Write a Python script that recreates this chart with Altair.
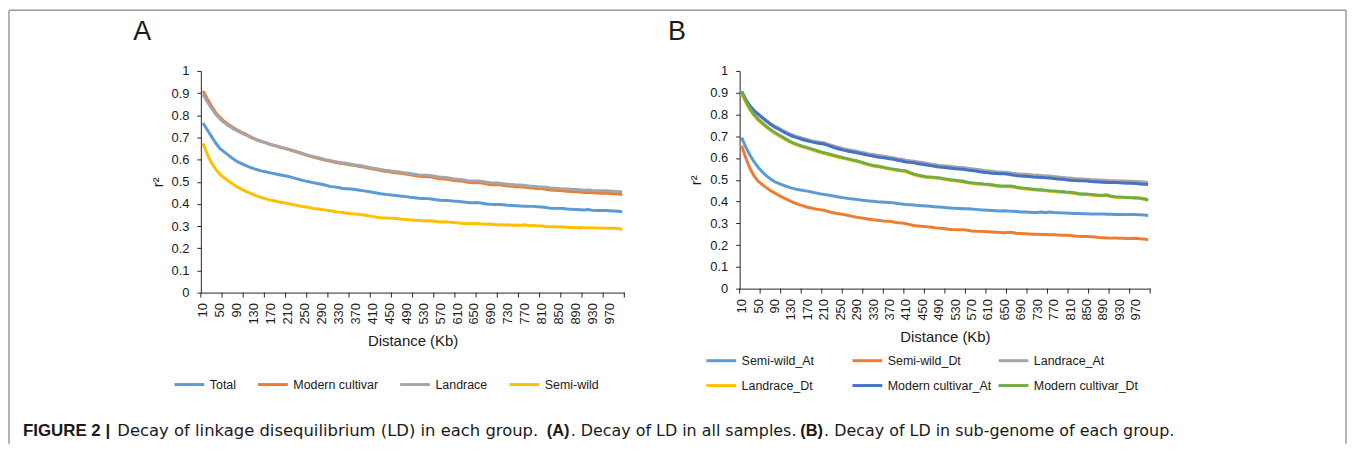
import altair as alt
import pandas as pd

# ---------------- data ----------------
distance = list(range(10, 1001, 10))          # Kb categories
x_labels = list(range(10, 971, 40))            # shown tick labels
x_ticks = list(range(5, 1006, 50))             # tick marks (category boundaries)
y_ticks = [0, 0.1, 0.2, 0.3, 0.4, 0.5, 0.6, 0.7, 0.8, 0.9, 1]

a_names = ["Total", "Modern cultivar", "Landrace", "Semi-wild"]
a_colors = ["#5B9BD5", "#ED7D31", "#A5A5A5", "#FFC000"]

total = [0.765, 0.735, 0.705, 0.675, 0.650, 0.635, 0.620, 0.605, 0.592, 0.583,
         0.574, 0.566, 0.559, 0.553, 0.548, 0.544, 0.540, 0.536, 0.532, 0.528,
         0.525, 0.520, 0.514, 0.509, 0.504, 0.500, 0.496, 0.492, 0.489, 0.484,
         0.479, 0.477, 0.474, 0.470, 0.469, 0.467, 0.465, 0.462, 0.459, 0.456,
         0.453, 0.449, 0.446, 0.444, 0.441, 0.439, 0.437, 0.435, 0.433, 0.430,
         0.428, 0.426, 0.425, 0.424, 0.422, 0.419, 0.417, 0.416, 0.415, 0.413,
         0.412, 0.410, 0.408, 0.405, 0.405, 0.406, 0.403, 0.400, 0.398, 0.397,
         0.398, 0.396, 0.394, 0.393, 0.392, 0.391, 0.390, 0.389, 0.389, 0.387,
         0.386, 0.384, 0.381, 0.380, 0.380, 0.379, 0.377, 0.376, 0.375, 0.374,
         0.373, 0.375, 0.371, 0.370, 0.370, 0.370, 0.369, 0.368, 0.367, 0.365]
modern = [0.910, 0.875, 0.842, 0.812, 0.790, 0.773, 0.758, 0.746, 0.735, 0.724,
          0.715, 0.705, 0.696, 0.688, 0.681, 0.675, 0.668, 0.663, 0.657, 0.652,
          0.647, 0.641, 0.635, 0.629, 0.623, 0.617, 0.612, 0.607, 0.601, 0.597,
          0.593, 0.589, 0.585, 0.582, 0.579, 0.576, 0.573, 0.569, 0.566, 0.562,
          0.558, 0.555, 0.551, 0.547, 0.545, 0.542, 0.540, 0.537, 0.535, 0.532,
          0.528, 0.525, 0.524, 0.523, 0.521, 0.517, 0.514, 0.513, 0.510, 0.507,
          0.505, 0.503, 0.500, 0.497, 0.496, 0.496, 0.494, 0.490, 0.487, 0.486,
          0.486, 0.483, 0.481, 0.480, 0.478, 0.477, 0.475, 0.473, 0.472, 0.470,
          0.468, 0.466, 0.463, 0.462, 0.461, 0.459, 0.457, 0.456, 0.455, 0.454,
          0.452, 0.453, 0.450, 0.449, 0.448, 0.448, 0.447, 0.446, 0.445, 0.443]
landrace = [0.895, 0.862, 0.832, 0.805, 0.784, 0.767, 0.753, 0.741, 0.731, 0.721,
            0.712, 0.703, 0.695, 0.687, 0.680, 0.674, 0.668, 0.663, 0.658, 0.653,
            0.648, 0.643, 0.637, 0.631, 0.625, 0.619, 0.614, 0.610, 0.605, 0.600,
            0.596, 0.592, 0.588, 0.585, 0.582, 0.579, 0.576, 0.573, 0.570, 0.566,
            0.562, 0.559, 0.555, 0.552, 0.550, 0.547, 0.545, 0.542, 0.540, 0.537,
            0.534, 0.531, 0.530, 0.529, 0.527, 0.524, 0.521, 0.520, 0.517, 0.514,
            0.512, 0.510, 0.507, 0.504, 0.503, 0.503, 0.501, 0.498, 0.495, 0.494,
            0.494, 0.491, 0.489, 0.488, 0.486, 0.485, 0.483, 0.481, 0.480, 0.478,
            0.477, 0.475, 0.472, 0.471, 0.470, 0.468, 0.467, 0.466, 0.465, 0.464,
            0.462, 0.463, 0.461, 0.460, 0.459, 0.459, 0.458, 0.457, 0.456, 0.454]
semiwild = [0.673, 0.625, 0.585, 0.556, 0.534, 0.518, 0.503, 0.490, 0.478, 0.468,
            0.458, 0.450, 0.441, 0.434, 0.428, 0.422, 0.417, 0.413, 0.409, 0.405,
            0.402, 0.398, 0.394, 0.390, 0.387, 0.384, 0.380, 0.378, 0.375, 0.372,
            0.369, 0.366, 0.363, 0.361, 0.358, 0.356, 0.355, 0.352, 0.350, 0.347,
            0.344, 0.340, 0.338, 0.337, 0.336, 0.335, 0.333, 0.331, 0.330, 0.328,
            0.326, 0.325, 0.324, 0.323, 0.324, 0.321, 0.319, 0.320, 0.318, 0.316,
            0.315, 0.313, 0.312, 0.311, 0.312, 0.311, 0.310, 0.308, 0.309, 0.306,
            0.306, 0.305, 0.306, 0.304, 0.305, 0.303, 0.306, 0.302, 0.303, 0.301,
            0.300, 0.298, 0.297, 0.297, 0.296, 0.296, 0.295, 0.294, 0.293, 0.294,
            0.292, 0.293, 0.292, 0.291, 0.291, 0.290, 0.290, 0.290, 0.289, 0.284]

b_names = ["Semi-wild_At", "Semi-wild_Dt", "Landrace_At",
           "Landrace_Dt", "Modern cultivar_At", "Modern cultivar_Dt"]
b_colors = ["#5B9BD5", "#ED7D31", "#A5A5A5", "#FFC000", "#4472C4", "#70AD47"]

semiwild_at = [0.694, 0.650, 0.614, 0.583, 0.558, 0.537, 0.519, 0.504, 0.492, 0.484,
               0.476, 0.469, 0.463, 0.458, 0.454, 0.451, 0.448, 0.444, 0.440, 0.436,
               0.433, 0.430, 0.427, 0.423, 0.420, 0.417, 0.414, 0.412, 0.410, 0.407,
               0.405, 0.403, 0.401, 0.399, 0.398, 0.397, 0.396, 0.394, 0.391, 0.389,
               0.386, 0.385, 0.384, 0.382, 0.381, 0.380, 0.378, 0.376, 0.375, 0.374,
               0.372, 0.370, 0.369, 0.368, 0.367, 0.367, 0.366, 0.364, 0.362, 0.361,
               0.360, 0.359, 0.358, 0.357, 0.358, 0.356, 0.355, 0.354, 0.352, 0.352,
               0.351, 0.350, 0.350, 0.352, 0.349, 0.352, 0.350, 0.349, 0.348, 0.347,
               0.346, 0.345, 0.345, 0.344, 0.344, 0.343, 0.343, 0.343, 0.343, 0.342,
               0.342, 0.341, 0.341, 0.341, 0.340, 0.340, 0.340, 0.339, 0.338, 0.336]
semiwild_dt = [0.656, 0.600, 0.553, 0.518, 0.494, 0.478, 0.464, 0.451, 0.440, 0.429,
               0.419, 0.410, 0.401, 0.393, 0.386, 0.380, 0.374, 0.370, 0.366, 0.363,
               0.360, 0.355, 0.350, 0.346, 0.343, 0.340, 0.336, 0.332, 0.328, 0.325,
               0.322, 0.319, 0.316, 0.314, 0.312, 0.310, 0.309, 0.306, 0.303, 0.302,
               0.298, 0.294, 0.290, 0.288, 0.286, 0.284, 0.283, 0.280, 0.278, 0.276,
               0.274, 0.272, 0.271, 0.270, 0.270, 0.268, 0.265, 0.264, 0.263, 0.262,
               0.261, 0.260, 0.259, 0.258, 0.257, 0.259, 0.258, 0.253, 0.253, 0.252,
               0.251, 0.250, 0.250, 0.249, 0.249, 0.248, 0.247, 0.246, 0.245, 0.245,
               0.244, 0.242, 0.240, 0.239, 0.239, 0.238, 0.237, 0.235, 0.234, 0.233,
               0.232, 0.233, 0.231, 0.231, 0.230, 0.230, 0.231, 0.229, 0.228, 0.224]
landrace_at = [0.900, 0.866, 0.838, 0.818, 0.803, 0.787, 0.773, 0.759, 0.747, 0.737,
               0.727, 0.717, 0.709, 0.702, 0.696, 0.690, 0.685, 0.680, 0.676, 0.673,
               0.670, 0.664, 0.658, 0.652, 0.647, 0.642, 0.638, 0.635, 0.631, 0.627,
               0.623, 0.619, 0.616, 0.613, 0.610, 0.607, 0.604, 0.601, 0.597, 0.594,
               0.590, 0.588, 0.585, 0.582, 0.579, 0.576, 0.573, 0.570, 0.567, 0.565,
               0.563, 0.561, 0.559, 0.557, 0.556, 0.553, 0.551, 0.548, 0.546, 0.543,
               0.541, 0.539, 0.537, 0.536, 0.535, 0.533, 0.530, 0.528, 0.526, 0.525,
               0.524, 0.522, 0.521, 0.520, 0.518, 0.517, 0.515, 0.513, 0.511, 0.509,
               0.508, 0.506, 0.505, 0.504, 0.503, 0.501, 0.500, 0.499, 0.498, 0.497,
               0.496, 0.496, 0.495, 0.494, 0.493, 0.493, 0.492, 0.491, 0.490, 0.488]
landrace_dt = [0.893, 0.855, 0.821, 0.795, 0.774, 0.757, 0.741, 0.727, 0.714, 0.703,
               0.692, 0.681, 0.671, 0.663, 0.656, 0.650, 0.644, 0.638, 0.632, 0.626,
               0.621, 0.616, 0.611, 0.606, 0.601, 0.597, 0.593, 0.588, 0.584, 0.579,
               0.573, 0.568, 0.563, 0.560, 0.557, 0.553, 0.549, 0.546, 0.543, 0.540,
               0.537, 0.530, 0.523, 0.518, 0.514, 0.511, 0.510, 0.508, 0.506, 0.503,
               0.500, 0.497, 0.495, 0.493, 0.490, 0.486, 0.483, 0.481, 0.480, 0.478,
               0.477, 0.474, 0.471, 0.469, 0.468, 0.469, 0.467, 0.463, 0.460, 0.458,
               0.456, 0.454, 0.452, 0.451, 0.449, 0.447, 0.446, 0.444, 0.443, 0.441,
               0.440, 0.437, 0.434, 0.432, 0.432, 0.430, 0.428, 0.427, 0.427, 0.428,
               0.422, 0.420, 0.419, 0.418, 0.417, 0.416, 0.415, 0.414, 0.411, 0.405]
modern_at = [0.906, 0.870, 0.840, 0.818, 0.802, 0.785, 0.770, 0.755, 0.742, 0.732,
             0.722, 0.712, 0.703, 0.696, 0.690, 0.684, 0.679, 0.674, 0.670, 0.667,
             0.664, 0.658, 0.651, 0.645, 0.640, 0.635, 0.631, 0.628, 0.624, 0.620,
             0.616, 0.612, 0.609, 0.605, 0.602, 0.600, 0.597, 0.594, 0.590, 0.586,
             0.582, 0.580, 0.578, 0.574, 0.571, 0.568, 0.565, 0.562, 0.559, 0.557,
             0.555, 0.553, 0.551, 0.549, 0.548, 0.545, 0.543, 0.540, 0.537, 0.535,
             0.532, 0.530, 0.529, 0.528, 0.528, 0.525, 0.522, 0.519, 0.517, 0.516,
             0.515, 0.513, 0.512, 0.511, 0.509, 0.508, 0.506, 0.504, 0.502, 0.500,
             0.498, 0.497, 0.496, 0.495, 0.494, 0.492, 0.491, 0.490, 0.489, 0.488,
             0.487, 0.487, 0.486, 0.485, 0.484, 0.484, 0.483, 0.481, 0.480, 0.478]
modern_dt = [0.906, 0.862, 0.827, 0.800, 0.779, 0.762, 0.746, 0.731, 0.718, 0.707,
             0.696, 0.685, 0.674, 0.666, 0.659, 0.653, 0.648, 0.642, 0.636, 0.630,
             0.625, 0.620, 0.615, 0.610, 0.605, 0.600, 0.596, 0.591, 0.588, 0.582,
             0.576, 0.571, 0.566, 0.563, 0.560, 0.556, 0.552, 0.549, 0.546, 0.543,
             0.541, 0.533, 0.526, 0.521, 0.517, 0.514, 0.513, 0.511, 0.509, 0.506,
             0.503, 0.500, 0.498, 0.496, 0.493, 0.489, 0.486, 0.484, 0.483, 0.481,
             0.480, 0.477, 0.474, 0.472, 0.471, 0.472, 0.470, 0.466, 0.463, 0.461,
             0.459, 0.457, 0.455, 0.454, 0.452, 0.450, 0.449, 0.447, 0.446, 0.444,
             0.443, 0.440, 0.437, 0.435, 0.435, 0.433, 0.431, 0.429, 0.429, 0.431,
             0.424, 0.422, 0.421, 0.420, 0.419, 0.418, 0.417, 0.416, 0.413, 0.407]

a_series = [total, modern, landrace, semiwild]
b_series = [semiwild_at, semiwild_dt, landrace_at, landrace_dt, modern_at, modern_dt]

# ---------------- style ----------------
FONT = "Liberation Sans"
CAPFONT = "DejaVu Sans"
TXT = "#1a1a1a"
AXC = "#262626"
ONE = pd.DataFrame({"k": [0]})


def text(txt, x, y, size, weight="normal", align="left", font=FONT):
    return alt.Chart(ONE).mark_text(
        text=txt, font=font, fontSize=size, fontWeight=weight,
        align=align, baseline="middle", color=TXT
    ).encode(x=alt.value(x), y=alt.value(y))


def panel(names, colors, series, field, w, h, legend):
    xscale = alt.Scale(domain=[5, 1005], nice=False, zero=False)
    yscale = alt.Scale(domain=[0, 1], nice=False)
    xaxis = alt.Axis(values=x_labels, labelAngle=270, labelAlign="right",
                     labelBaseline="middle", ticks=False, labelPadding=10,
                     labelFont=FONT, labelFontSize=13, labelColor=TXT,
                     labelOverlap=False, labelFlush=False, labelBound=False,
                     title="Distance (Kb)", titleFont=FONT, titleFontSize=15,
                     titleFontWeight="normal", titleColor=TXT, titlePadding=10,
                     domainColor=AXC, domainWidth=1, grid=False)
    yaxis = alt.Axis(values=y_ticks, format="~g", labelFont=FONT,
                     labelFontSize=13, labelColor=TXT, labelPadding=8,
                     tickSize=4, tickColor=AXC, domainColor=AXC, grid=False,
                     title="r²", titleFont=FONT, titleFontSize=15,
                     titleFontWeight="normal", titleColor=TXT, titlePadding=6)
    color = alt.Color(f"{field}:N",
                      scale=alt.Scale(domain=names, range=colors),
                      legend=legend)
    layers = []
    for n, vals in zip(names, series):
        df = pd.DataFrame({"d": distance, "r2": vals, field: n})
        layers.append(
            alt.Chart(df).mark_line(strokeWidth=3, strokeJoin="round")
            .encode(x=alt.X("d:Q", scale=xscale, axis=xaxis),
                    y=alt.Y("r2:Q", scale=yscale, axis=yaxis),
                    color=color)
        )
    ticks = alt.Chart(pd.DataFrame({"d": x_ticks})).mark_rule(
        color=AXC, strokeWidth=1
    ).encode(x=alt.X("d:Q", scale=xscale, axis=xaxis),
             y=alt.value(h), y2=alt.value(h + 5))
    return layers + [ticks]


def legend(x, y, cols, colpad, rowpad, align):
    return alt.Legend(title=None, orient="none", legendX=x, legendY=y,
                      direction="horizontal", columns=cols,
                      symbolType="stroke", symbolSize=900,
                      symbolStrokeWidth=3, labelFont=FONT, labelFontSize=12.5,
                      labelColor=TXT, labelOffset=4, columnPadding=colpad,
                      rowPadding=rowpad, padding=0, gridAlign=align,
                      labelLimit=300)


WA, HA = 426, 223
WB, HB = 413, 219

frame_color = "#9a9a9a"
frame = [
    alt.Chart(ONE).mark_rule(color=frame_color, strokeWidth=1.5)
    .encode(x=alt.value(-193), y=alt.value(-61), y2=alt.value(375)),
    alt.Chart(ONE).mark_rule(color=frame_color, strokeWidth=1.5)
    .encode(x=alt.value(-193), x2=alt.value(1152), y=alt.value(-61)),
    alt.Chart(ONE).mark_rule(color=frame_color, strokeWidth=1.5)
    .encode(x=alt.value(1152), y=alt.value(-61), y2=alt.value(375)),
]

CY = 362
caption = [
    text("FIGURE 2 |", -179, CY, 17, "bold"),
    text("Decay of linkage disequilibrium (LD) in each group.", -84, CY, 16.5,
         font=CAPFONT),
    text("(A)", 348, CY, 16.5, "bold"),
    text(". Decay of LD in all samples.", 372, CY, 16, font=CAPFONT),
    text("(B)", 603, CY, 16.5, "bold"),
    text(". Decay of LD in sub-genome of each group.", 627, CY, 16,
         font=CAPFONT),
]

chart_a = alt.layer(
    *panel(a_names, a_colors, a_series, "group", WA, HA,
           legend(-28, 299, 4, 15, 2, "none")),
    text("A", -59, -39, 27, align="center"),
    *frame, *caption
).properties(width=WA, height=HA)

chart_b = alt.layer(
    *panel(b_names, b_colors, b_series, "subgenome", WB, HB,
           legend(-35, 275, 3, 0, 2, "all")),
    text("B", -63, -39, 27, align="center"),
).properties(width=WB, height=HB)

chart = alt.hconcat(chart_a, chart_b, spacing=116, bounds="flush").resolve_scale(
    color="independent"
).properties(padding=0).configure_view(stroke=None)

chart.save("out.html", embed_options={"renderer": "svg", "actions": False})
